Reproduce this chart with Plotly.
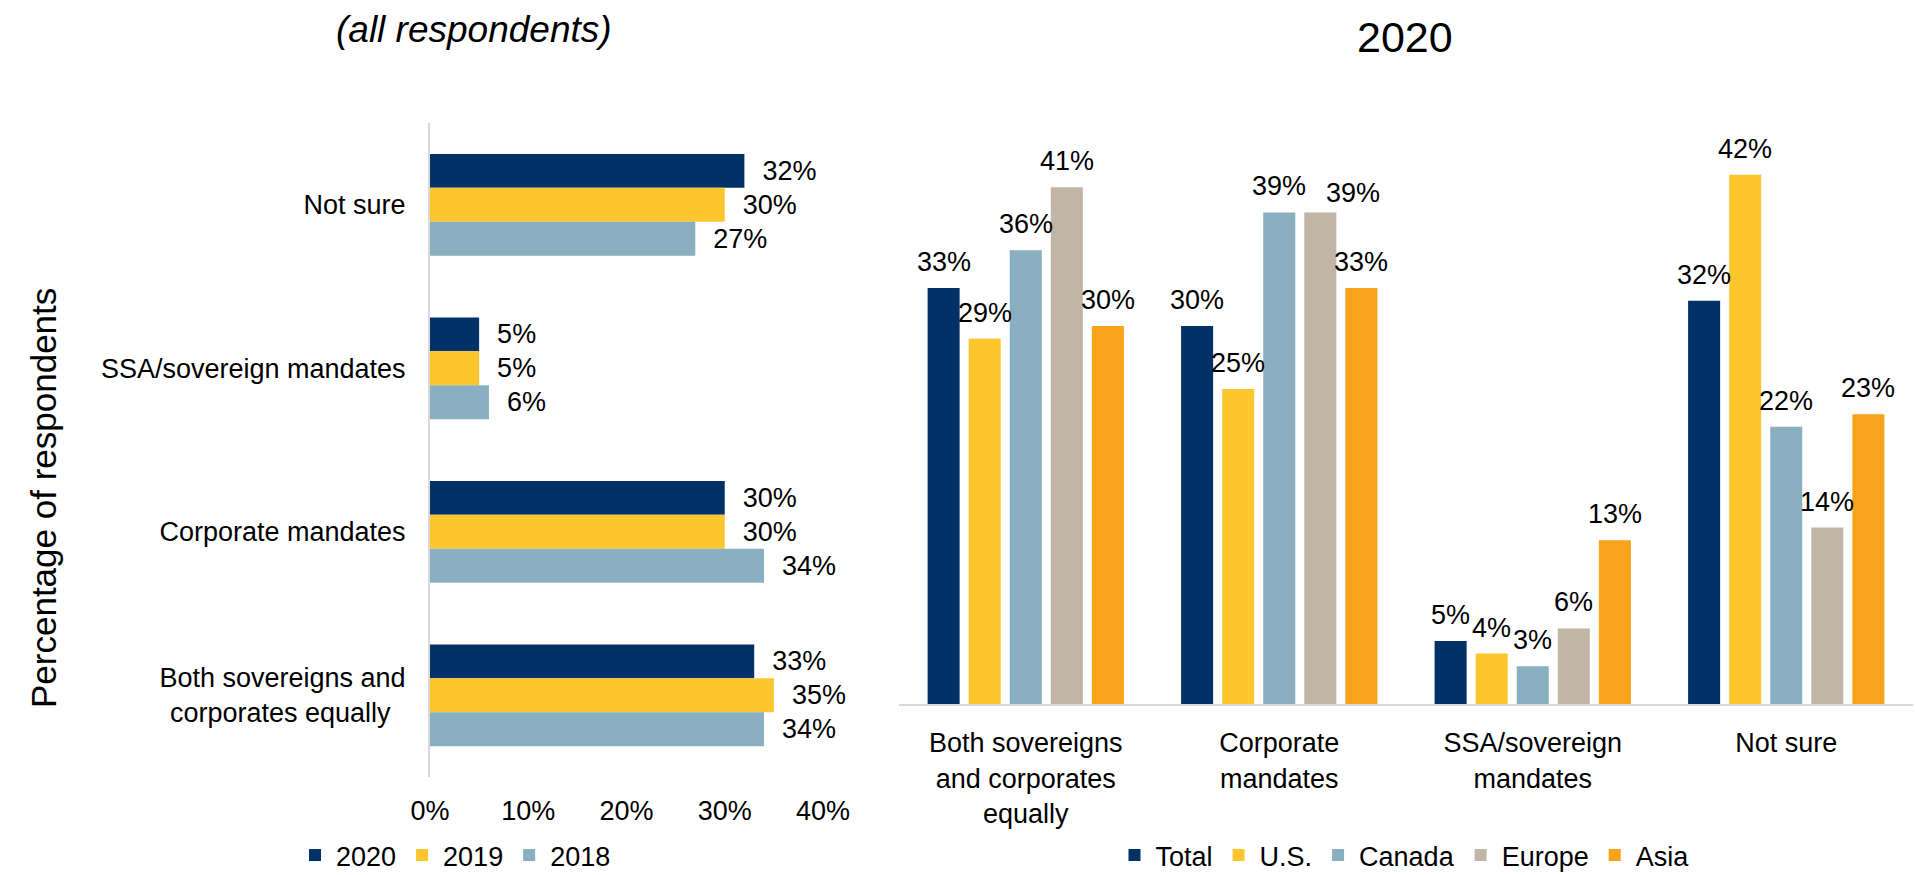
import plotly.graph_objects as go

# ---------------- data ----------------
left_categories = ["Not sure", "SSA/sovereign mandates", "Corporate mandates",
                   "Both sovereigns and<br>corporates equally\u00a0\u00a0"]
years = ["2020", "2019", "2018"]
vals_2020 = [0.32, 0.05, 0.30, 0.33]
vals_2019 = [0.30, 0.05, 0.30, 0.35]
vals_2018 = [0.27, 0.06, 0.34, 0.34]
left_values = [vals_2020, vals_2019, vals_2018]
left_ticks = [0, 0.1, 0.2, 0.3, 0.4]

right_categories = ["Both sovereigns<br>and corporates<br>equally", "Corporate<br>mandates",
                    "SSA/sovereign<br>mandates", "Not sure"]
regions = ["Total", "U.S.", "Canada", "Europe", "Asia"]
total = [0.33, 0.30, 0.05, 0.32]
us = [0.29, 0.25, 0.04, 0.42]
canada = [0.36, 0.39, 0.03, 0.22]
europe = [0.41, 0.39, 0.06, 0.14]
asia = [0.30, 0.33, 0.13, 0.23]
right_values = [total, us, canada, europe, asia]

# ---------------- style ----------------
NAVY = "#023168"
YELLOW = "#FEC62E"
LBLUE = "#8AAFC1"
TAN = "#C1B5A5"
ORANGE = "#F9A31A"
left_colors = [NAVY, YELLOW, LBLUE]
right_colors = [NAVY, YELLOW, LBLUE, TAN, ORANGE]
FONT = "Arial, 'Liberation Sans', sans-serif"
FS = 27
W, H = 1915, 875

BARGAP = 0.19
BARGROUPGAP = 0.22
bar_w = 0.2073
left_offsets = [-0.311, -0.104, 0.104]

# label placement for the right chart: px above bar top, with one hand-nudged label
LABEL_RAISE = 26
nudge = {(3, 1): (33, -7)}   # (region index, category index): (dx px, dy px)

fig = go.Figure()

for name, vals, col, off in zip(years, left_values, left_colors, left_offsets):
    fig.add_trace(go.Bar(
        y=left_categories, x=vals, orientation="h", name=name,
        marker=dict(color=col, line=dict(width=0)),
        width=bar_w, offset=off,
        texttemplate="\u00a0\u00a0%{x:.0%}", textposition="outside",
        textfont=dict(size=FS, color="black", family=FONT),
        constraintext="none", cliponaxis=False,
        xaxis="x", yaxis="y", legend="legend",
    ))

n_reg = len(regions)
slot = (1 - BARGAP) / n_reg
annotations = []
for k, (name, vals, col) in enumerate(zip(regions, right_values, right_colors)):
    fig.add_trace(go.Bar(
        x=right_categories, y=vals, name=name,
        marker=dict(color=col, line=dict(width=0)),
        xaxis="x2", yaxis="y2", legend="legend2",
    ))
    for j, v in enumerate(vals):
        dx, dy = nudge.get((k, j), (0, 0))
        annotations.append(dict(
            text=f"{round(v * 100)}%", x=j + (k - (n_reg - 1) / 2) * slot, y=v,
            xref="x2", yref="y2", showarrow=False, xanchor="center", yanchor="middle",
            xshift=dx, yshift=LABEL_RAISE + dy,
            font=dict(size=FS, color="black", family=FONT),
        ))

def px_x(v):
    return v / W

def px_y(v):
    return 1 - v / H

annotations += [
    dict(text="<i>(all respondents)</i>", x=px_x(474), y=px_y(30),
         xref="paper", yref="paper", showarrow=False,
         font=dict(size=37), xanchor="center", yanchor="middle"),
    dict(text="2020", x=px_x(1405), y=px_y(37), xref="paper", yref="paper",
         showarrow=False, font=dict(size=43), xanchor="center", yanchor="middle"),
    dict(text="Percentage of respondents", x=px_x(43), y=px_y(498),
         xref="paper", yref="paper", showarrow=False, textangle=-90,
         font=dict(size=35), xanchor="center", yanchor="middle"),
]

LEG_Y = -5 / H

fig.update_layout(
    width=W, height=H,
    margin=dict(l=0, r=0, t=0, b=0, autoexpand=False),
    paper_bgcolor="white", plot_bgcolor="white",
    font=dict(family=FONT, size=FS, color="black"),
    barmode="group", bargap=BARGAP, bargroupgap=BARGROUPGAP,
    xaxis=dict(domain=[px_x(430), px_x(823)], range=[0, 0.4], tickvals=left_ticks,
               tickformat=".0%", showgrid=False, zeroline=False, showline=False,
               ticks="", ticklabelstandoff=15, tickfont=dict(size=FS),
               anchor="y", fixedrange=True, automargin=False),
    yaxis=dict(domain=[px_y(777), px_y(123)], range=[3.5, -0.5],
               categoryorder="array", categoryarray=left_categories,
               showgrid=False, zeroline=False, showline=True, linecolor="#D9D9D9",
               linewidth=2, ticks="", ticklabelstandoff=17, tickfont=dict(size=FS),
               anchor="x", fixedrange=True, automargin=False),
    xaxis2=dict(domain=[px_x(899), px_x(1913)], range=[-0.5, 3.5],
                categoryorder="array", categoryarray=right_categories,
                showgrid=False, zeroline=False,
                showline=True, linecolor="#D9D9D9", linewidth=2, ticks="",
                ticklabelstandoff=14, tickfont=dict(size=FS), anchor="y2",
                fixedrange=True, automargin=False),
    yaxis2=dict(domain=[px_y(704), px_y(123)], range=[0, 0.461], visible=False,
                anchor="x2", fixedrange=True, automargin=False),
    legend=dict(orientation="h", x=px_x(455), xanchor="center", y=LEG_Y,
                yanchor="bottom", font=dict(size=FS), bgcolor="rgba(0,0,0,0)",
                itemwidth=32),
    legend2=dict(orientation="h", x=px_x(1404), xanchor="center", y=LEG_Y,
                 yanchor="bottom", font=dict(size=FS), bgcolor="rgba(0,0,0,0)",
                 itemwidth=32),
    annotations=annotations,
)

fig.write_html("out.html", config={"displayModeBar": False},
               post_script="document.body.style.margin='0';")
